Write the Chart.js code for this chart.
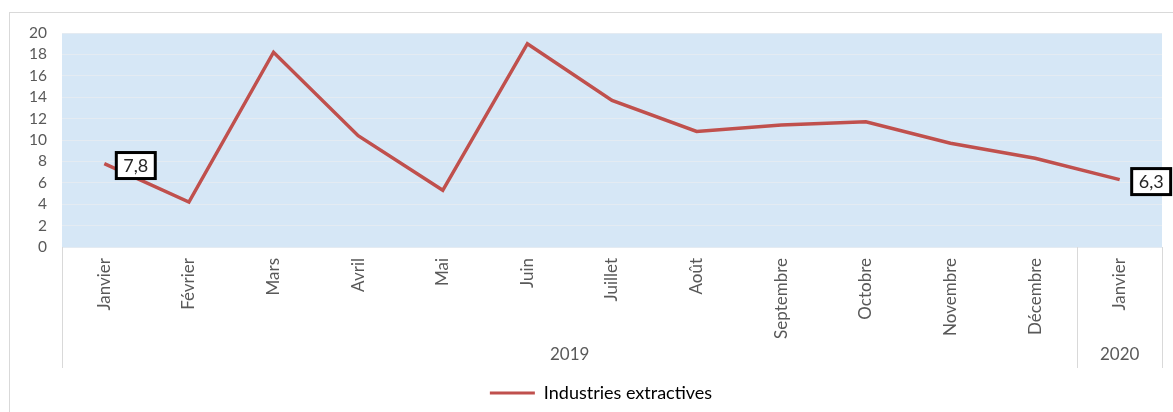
<!DOCTYPE html>
<html>
<head>
<meta charset="utf-8">
<script src="https://cdn.jsdelivr.net/npm/chart.js@4.4.1/dist/chart.umd.min.js"></script>
<style>
  body { margin: 0; background: #fff; }
  #wrap { width: 1173px; height: 412px; position: relative; }
</style>
</head>
<body>
<div id="wrap"><canvas id="chart"></canvas></div>
<script>
// Data
const months = ['Janvier', 'Février', 'Mars', 'Avril', 'Mai', 'Juin', 'Juillet', 'Août',
    'Septembre', 'Octobre', 'Novembre', 'Décembre', 'Janvier'];
const years = ['2019', '2020'];
const yearSpans = [12, 1];
const extractives = [7.8, 4.2, 18.2, 10.4, 5.3, 19.0, 13.7, 10.8, 11.4, 11.7, 9.7, 8.3, 6.3];
const labelledPoints = [0, 12];

const textGrey = '#595959';
const lineRed = '#c0504d';
const fontFamily = 'Lato, "Liberation Sans", sans-serif';

// Background of plot area, frame, year row and separators
const decorPlugin = {
    id: 'decor',
    afterLayout(chart) {
        // legend sits a bit right of centre in the original
        if (chart.legend) {
            chart.legend.left += 15;
            chart.legend.right += 15;
        }
    },
    beforeDraw(chart) {
        const { ctx, chartArea } = chart;
        ctx.save();
        ctx.fillStyle = '#d6e7f6';
        ctx.fillRect(chartArea.left, chartArea.top, chartArea.right - chartArea.left, chartArea.bottom - chartArea.top);
        ctx.strokeStyle = '#d9d9d9';
        ctx.lineWidth = 1;
        ctx.strokeRect(9.5, 12.5, 1300, 500);
        ctx.restore();
    },
    afterDraw(chart) {
        const { ctx, chartArea } = chart;
        const x = chart.scales.x;
        const step = (x.right - x.left) / months.length;
        const top = chartArea.bottom;
        const bottom = 368;
        ctx.save();
        ctx.strokeStyle = '#d9d9d9';
        ctx.lineWidth = 1;
        ctx.fillStyle = textGrey;
        ctx.font = '17px ' + fontFamily;
        ctx.textAlign = 'center';
        ctx.textBaseline = 'middle';
        let start = 0;
        const drawSep = (px) => {
            ctx.beginPath();
            ctx.moveTo(Math.round(px) + 0.5, top);
            ctx.lineTo(Math.round(px) + 0.5, bottom);
            ctx.stroke();
        };
        drawSep(x.left);
        years.forEach((yr, i) => {
            const end = start + yearSpans[i];
            const l = x.left + start * step;
            const r = x.left + end * step;
            drawSep(r);
            ctx.fillText(yr, (l + r) / 2, 355);
            start = end;
        });

        // value boxes
        const meta = chart.getDatasetMeta(0);
        ctx.font = '18px ' + fontFamily;
        labelledPoints.forEach(i => {
            const pt = meta.data[i];
            const txt = String(extractives[i]).replace('.', ',');
            const w = ctx.measureText(txt).width + 14;
            const h = 26;
            const bx = pt.x + 12;
            const by = pt.y + 2 - h / 2;
            ctx.fillStyle = '#fff';
            ctx.fillRect(bx, by, w, h);
            ctx.strokeStyle = '#000';
            ctx.lineWidth = 3;
            ctx.strokeRect(bx, by, w, h);
            ctx.fillStyle = '#262626';
            ctx.textAlign = 'center';
            ctx.fillText(txt, bx + w / 2, by + h / 2 + 1);
        });
        ctx.restore();
    }
};

new Chart(document.getElementById('chart'), {
    type: 'line',
    data: {
        labels: months,
        datasets: [{
            label: 'Industries extractives',
            data: extractives,
            borderColor: lineRed,
            backgroundColor: lineRed,
            borderWidth: 3.5,
            pointRadius: 0,
            tension: 0
        }]
    },
    options: {
        responsive: true,
        maintainAspectRatio: false,
        animation: false,
        layout: { padding: { left: 10, top: 33, right: 11, bottom: 0 } },
        plugins: {
            tooltip: { enabled: false },
            legend: {
                position: 'bottom',
                labels: {
                    color: textGrey,
                    font: { size: 18, family: fontFamily },
                    boxWidth: 45,
                    boxHeight: 3,
                    padding: 8,
                    generateLabels(chart) {
                        const ds = chart.data.datasets[0];
                        return [{ text: ds.label, fillStyle: lineRed, strokeStyle: lineRed, lineWidth: 0, datasetIndex: 0 }];
                    }
                }
            }
        },
        scales: {
            x: {
                offset: true,
                grid: { display: false, drawTicks: false },
                border: { display: false },
                ticks: {
                    color: textGrey,
                    font: { size: 17, family: fontFamily },
                    maxRotation: 90,
                    minRotation: 90,
                    padding: 11,
                    autoSkip: false
                },
                afterFit(scale) { scale.height = 129; }
            },
            y: {
                min: 0,
                max: 20,
                grid: { color: '#e4ebf2', drawTicks: false },
                border: { display: false },
                ticks: {
                    stepSize: 2,
                    autoSkip: false,
                    color: textGrey,
                    font: { size: 15.5, family: fontFamily },
                    padding: 15
                },
                afterFit(scale) { scale.width = 52; }
            }
        }
    },
    plugins: [decorPlugin]
});
</script>
</body>
</html>
